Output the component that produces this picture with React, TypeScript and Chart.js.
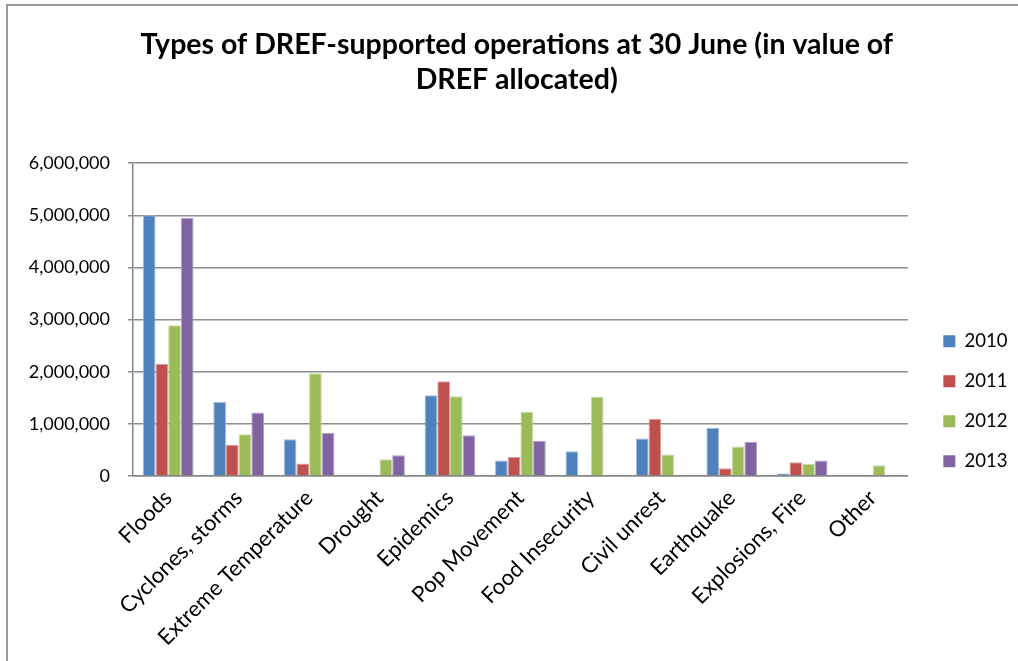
import React, { useEffect, useRef } from 'react';
import { Chart, registerables } from 'chart.js';

Chart.register(...registerables);

const categories = [
  'Floods',
  'Cyclones, storms',
  'Extreme Temperature',
  'Drought',
  'Epidemics',
  'Pop Movement',
  'Food Insecurity',
  'Civil unrest',
  'Earthquake',
  'Explosions, Fire',
  'Other',
];

const seriesNames = ['2010', '2011', '2012', '2013'];

const values2010 = [5000000, 1420000, 705000, 15000, 1550000, 295000, 475000, 720000, 925000, 50000, 15000];
const values2011 = [2150000, 600000, 240000, 0, 1815000, 365000, 0, 1100000, 150000, 265000, 0];
const values2012 = [2890000, 800000, 1970000, 320000, 1530000, 1230000, 1520000, 410000, 565000, 230000, 205000];
const values2013 = [4950000, 1220000, 825000, 400000, 780000, 675000, 0, 0, 655000, 295000, 0];

const yTicks = [0, 1000000, 2000000, 3000000, 4000000, 5000000, 6000000];

const titleLines = ['Types of DREF-supported operations at 30 June (in value of', 'DREF allocated)'];

const fillColors = ['#4F81BD', '#C0504D', '#9BBB59', '#8064A2'];
const edgeColors = ['#9DB9DD', '#DDA09E', '#C6D9A4', '#B3A2C9'];

const FONT = 'Lato, "Noto Sans", sans-serif';

const frame = {
  id: 'frame',
  beforeDraw(chart: any) {
    const { ctx, width, height } = chart;
    ctx.save();
    ctx.fillStyle = '#ffffff';
    ctx.fillRect(0, 0, width, height);
    ctx.strokeStyle = '#9a9a9a';
    ctx.lineWidth = 2;
    ctx.beginPath();
    ctx.moveTo(7, height);
    ctx.lineTo(7, 5);
    ctx.lineTo(width, 5);
    ctx.stroke();
    ctx.restore();
  },
  afterLayout(chart: any) {
    const lg = chart.legend;
    if (lg) {
      lg.left += 14;
      lg.right += 14;
      lg.top += 16;
      lg.bottom += 16;
    }
    const tb = chart.titleBlock;
    if (tb) {
      tb.left += 15;
      tb.right += 15;
    }
  },
};

export default function App() {
  const ref = useRef<HTMLCanvasElement | null>(null);

  useEffect(() => {
    const canvas = ref.current;
    if (!canvas) return;
    const seriesValues = [values2010, values2011, values2012, values2013];
    const chart = new Chart(canvas, {
      type: 'bar',
      data: {
        labels: categories,
        datasets: seriesNames.map((name, i) => ({
          label: name,
          data: seriesValues[i],
          backgroundColor: fillColors[i],
          borderColor: edgeColors[i],
          borderWidth: 1,
          categoryPercentage: 0.72,
          barPercentage: 1,
        })),
      },
      options: {
        responsive: false,
        animation: false,
        devicePixelRatio: 1,
        layout: { padding: { left: 0, right: 14.5, top: 0, bottom: 0 } },
        plugins: {
          title: {
            display: true,
            text: titleLines,
            color: '#000000',
            font: { family: FONT, size: 28.5, weight: 'bold', lineHeight: 1.23 },
            padding: { top: 27.5, bottom: 65.5 },
          },
          legend: {
            display: true,
            position: 'right',
            align: 'end',
            fullSize: false,
            labels: {
              boxWidth: 12,
              boxHeight: 12,
              padding: 21.5,
              color: '#000000',
              font: { family: FONT, size: 18.5 },
              generateLabels: (c: any) =>
                c.data.datasets.map((d: any, i: number) => ({
                  text: d.label,
                  fillStyle: fillColors[i],
                  strokeStyle: fillColors[i],
                  lineWidth: 0,
                  datasetIndex: i,
                  fontColor: '#000000',
                })),
            },
          },
          tooltip: { enabled: false },
        },
        scales: {
          x: {
            offset: true,
            grid: { display: false, drawTicks: false },
            border: { display: true, color: '#868686', width: 1.5 },
            ticks: {
              autoSkip: false,
              maxRotation: 45,
              minRotation: 45,
              padding: 9,
              color: '#000000',
              font: { family: FONT, size: 22 },
            },
            afterFit: (s: any) => {
              s.height = 185;
            },
          },
          y: {
            min: 0,
            max: 6000000,
            afterBuildTicks: (s: any) => {
              s.ticks = yTicks.map((v) => ({ value: v }));
            },
            grid: { color: '#8c8c8c', lineWidth: 1.5, drawTicks: true, tickLength: 5 },
            border: { display: true, color: '#868686', width: 1.5 },
            ticks: {
              padding: 18,
              color: '#000000',
              font: { family: FONT, size: 18 },
              callback: (v: any) => Number(v).toLocaleString('en-US'),
            },
            afterFit: (s: any) => {
              s.width = 133;
            },
          },
        },
      },
      plugins: [frame],
    });
    return () => chart.destroy();
  }, []);

  return (
    <div style={{ position: 'fixed', left: 0, top: 0, width: 1018, height: 661, background: '#fff' }}>
      <canvas ref={ref} width={1018} height={661} style={{ display: 'block' }} />
    </div>
  );
}
